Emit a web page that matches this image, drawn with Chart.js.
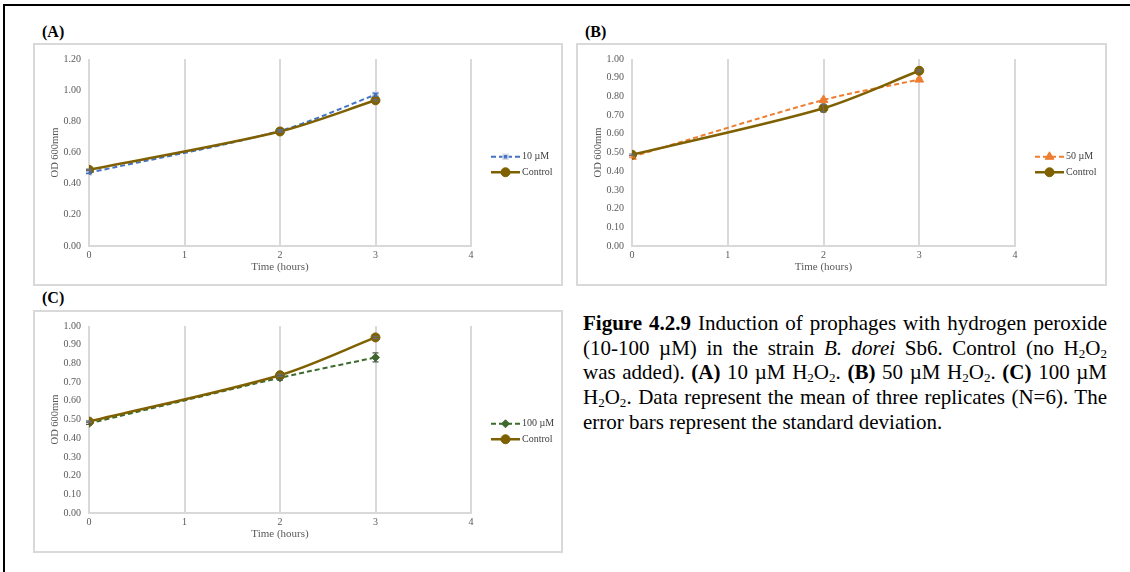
<!DOCTYPE html>
<html>
<head>
<meta charset="utf-8">
<script src="https://cdn.jsdelivr.net/npm/chart.js@4.4.1/dist/chart.umd.min.js"></script>
<style>
  body { margin:0; width:1130px; height:572px; background:#fff; overflow:hidden; position:relative; font-family:"Liberation Serif", serif; }
  .frame { position:absolute; left:3px; top:4px; width:1127px; height:568px; border-top:2px solid #000; border-left:2px solid #000; }
  .tag { position:absolute; font-weight:bold; font-size:16px; line-height:18px; color:#000; }
  .panel { position:absolute; height:243px; border:2px solid #d9d9d9; box-sizing:border-box; background:#fff; }
  .panel canvas { display:block; }
  .caption { position:absolute; left:583px; top:311px; width:524px; font-size:21px; line-height:24.7px; color:#000; }
  .caption div { text-align:justify; text-align-last:justify; white-space:nowrap; }
  .caption div.last { text-align-last:left; }
  .caption sub { font-size:0.62em; line-height:0; vertical-align:-0.22em; }
</style>
</head>
<body>
<div class="frame"></div>
<div class="tag" style="left:42px; top:23px;">(A)</div>
<div class="tag" style="left:585px; top:23px;">(B)</div>
<div class="tag" style="left:42px; top:289px;">(C)</div>
<div class="panel" style="left:33px; top:43px; width:530px;"><canvas id="chartA" width="526" height="239"></canvas></div>
<div class="panel" style="left:576px; top:43px; width:531px;"><canvas id="chartB" width="527" height="239"></canvas></div>
<div class="panel" style="left:33px; top:310px; width:530px;"><canvas id="chartC" width="526" height="239"></canvas></div>
<div class="caption">
  <div><b>Figure 4.2.9</b> Induction of prophages with hydrogen peroxide</div>
  <div>(10-100 µM) in the strain <i>B. dorei</i> Sb6. Control (no H<sub>2</sub>O<sub>2</sub></div>
  <div>was added). <b>(A)</b> 10 µM H<sub>2</sub>O<sub>2</sub>. <b>(B)</b> 50 µM H<sub>2</sub>O<sub>2</sub>. <b>(C)</b> 100 µM</div>
  <div>H<sub>2</sub>O<sub>2</sub>. Data represent the mean of three replicates (N=6). The</div>
  <div class="last">error bars represent the standard deviation.</div>
</div>
<script>
// time points (hours)
const timeHours = [0, 2, 3];
const xTicks = [0, 1, 2, 3, 4];
const yTicksA = [0, 0.2, 0.4, 0.6, 0.8, 1.0, 1.2];
const yTicksBC = [0, 0.1, 0.2, 0.3, 0.4, 0.5, 0.6, 0.7, 0.8, 0.9, 1.0];

// OD 600 means and SD
const od10 = [0.470, 0.739, 0.971];
const sd10 = [0.005, 0.006, 0.010];
const controlA = [0.489, 0.735, 0.935];
const sdControlA = [0.004, 0.005, 0.006];

const od50 = [0.477, 0.781, 0.890];
const sd50 = [0.005, 0.006, 0.006];
const controlB = [0.488, 0.737, 0.937];
const sdControlB = [0.004, 0.020, 0.006];

const od100 = [0.479, 0.723, 0.832];
const sd100 = [0.005, 0.012, 0.024];
const controlC = [0.489, 0.737, 0.939];
const sdControlC = [0.004, 0.006, 0.006];

const serif = '"Liberation Serif", "Times New Roman", serif';

function points(vals) {
  return timeHours.map((t, i) => ({ x: t, y: vals[i] }));
}

const errorBars = {
  id: 'errorBars',
  afterDatasetsDraw(chart) {
    const ctx = chart.ctx, xs = chart.scales.x, ys = chart.scales.y;
    chart.data.datasets.forEach(ds => {
      if (!ds.sd) return;
      ctx.save();
      ctx.strokeStyle = ds.errColor;
      ctx.lineWidth = 1.2;
      ds.data.forEach((p, i) => {
        const x = xs.getPixelForValue(p.x);
        const top = ys.getPixelForValue(p.y + ds.sd[i]);
        const bot = ys.getPixelForValue(p.y - ds.sd[i]);
        ctx.beginPath();
        ctx.moveTo(x, top); ctx.lineTo(x, bot);
        ctx.moveTo(x - 3, top); ctx.lineTo(x + 3, top);
        ctx.moveTo(x - 3, bot); ctx.lineTo(x + 3, bot);
        ctx.stroke();
      });
      ctx.restore();
    });
  }
};

// Excel-style legend on the right: line + marker + text
const sideLegend = {
  id: 'sideLegend',
  afterDraw(chart) {
    const ctx = chart.ctx, area = chart.chartArea;
    const sets = chart.data.datasets;
    const rowH = 15.5;
    const midY = chart.height / 2;
    const x0 = area.right + 20;
    sets.forEach((ds, i) => {
      const y = midY + (i - (sets.length - 1) / 2) * rowH;
      ctx.save();
      ctx.strokeStyle = ds.borderColor;
      ctx.lineWidth = ds.borderWidth;
      ctx.setLineDash(ds.borderDash || []);
      ctx.beginPath();
      ctx.moveTo(x0, y); ctx.lineTo(x0 + 29, y);
      ctx.stroke();
      ctx.setLineDash([]);
      ctx.fillStyle = ds.pointBackgroundColor;
      ctx.strokeStyle = ds.pointBorderColor;
      ctx.lineWidth = ds.pointBorderWidth;
      Chart.helpers.drawPoint(ctx, {
        pointStyle: ds.pointStyle, radius: ds.pointRadius,
        borderWidth: ds.pointBorderWidth, rotation: 0
      }, x0 + 14.5, y);
      ctx.fillStyle = '#404040';
      ctx.font = '10px ' + serif;
      ctx.textBaseline = 'middle';
      ctx.fillText(ds.label, x0 + 31, y);
      ctx.restore();
    });
  }
};

const controlStyle = {
  label: 'Control',
  borderColor: '#7F6000',
  borderWidth: 2.5,
  pointStyle: 'circle',
  pointRadius: 4.5,
  pointBackgroundColor: '#7F6000',
  pointBorderColor: '#7F6000',
  pointBorderWidth: 1,
  errColor: '#6b6b6b',
  order: 0
};

function makeChart(id, treat, control, yTicks) {
  new Chart(document.getElementById(id), {
    type: 'line',
    data: {
      datasets: [
        Object.assign({ borderDash: [5, 3], tension: 0.3, order: 1 }, treat),
        Object.assign({ tension: 0.3 }, controlStyle, control)
      ]
    },
    options: {
      responsive: false,
      animation: false,
      layout: { padding: { left: 14, top: 9, right: 90, bottom: 10 } },
      plugins: { legend: { display: false }, tooltip: { enabled: false } },
      scales: {
        x: {
          type: 'linear',
          min: 0, max: 4,
          afterBuildTicks: s => { s.ticks = xTicks.map(v => ({ value: v })); },
          afterFit: s => { s.height = 28; },
          ticks: { font: { family: serif, size: 10 }, color: '#595959', padding: 3 },
          grid: { color: '#d9d9d9', lineWidth: 2, drawTicks: false },
          border: { color: '#d9d9d9', width: 2 },
          title: { display: true, text: 'Time (hours)', font: { family: serif, size: 11 }, color: '#595959', padding: 0 }
        },
        y: {
          min: 0, max: yTicks[yTicks.length - 1],
          afterBuildTicks: s => { s.ticks = yTicks.map(v => ({ value: v })); },
          afterFit: s => { s.width = 40; },
          ticks: { font: { family: serif, size: 10 }, color: '#595959', padding: 8, callback: v => v.toFixed(2) },
          grid: { display: false, drawTicks: false },
          border: { display: false },
          title: { display: true, text: 'OD 600mm', font: { family: serif, size: 10.5 }, color: '#595959', padding: 0 }
        }
      }
    },
    plugins: [errorBars, sideLegend]
  });
}

makeChart('chartA', {
  label: '10 µM', data: points(od10), sd: sd10,
  borderColor: '#4472C4', borderWidth: 2,
  pointStyle: 'rect', pointRadius: 3.5,
  pointBackgroundColor: '#4472C4', pointBorderColor: '#d6dce8', pointBorderWidth: 1.5,
  errColor: '#4472C4'
}, { data: points(controlA), sd: sdControlA }, yTicksA);

makeChart('chartB', {
  label: '50 µM', data: points(od50), sd: sd50,
  borderColor: '#ED7D31', borderWidth: 2,
  pointStyle: 'triangle', pointRadius: 5,
  pointBackgroundColor: '#ED7D31', pointBorderColor: '#ED7D31', pointBorderWidth: 1,
  errColor: '#ED7D31'
}, { data: points(controlB), sd: sdControlB }, yTicksBC);

makeChart('chartC', {
  label: '100 µM', data: points(od100), sd: sd100,
  borderColor: '#3E6B2C', borderWidth: 2,
  pointStyle: 'rectRot', pointRadius: 4,
  pointBackgroundColor: '#3E6B2C', pointBorderColor: '#3E6B2C', pointBorderWidth: 1,
  errColor: '#4d5a45'
}, { data: points(controlC), sd: sdControlC }, yTicksBC);
</script>
</body>
</html>
